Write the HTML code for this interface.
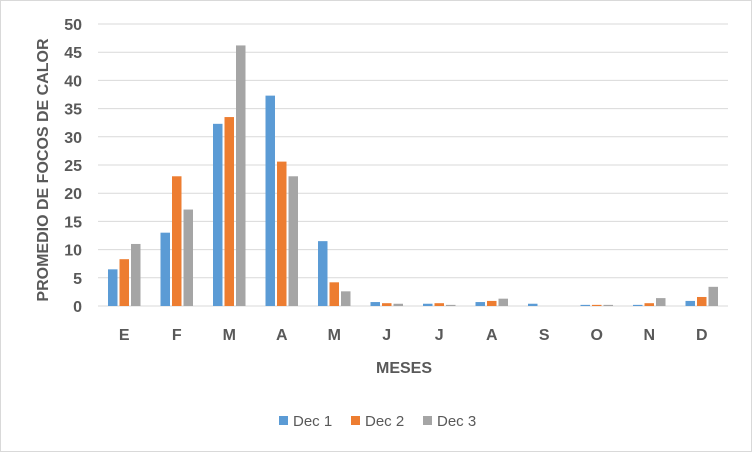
<!DOCTYPE html>
<html><head><meta charset="utf-8"><style>
body{margin:0;background:#fff}
svg text{font-family:"Liberation Sans",sans-serif;fill:#595959}
</style></head><body>
<svg width="752" height="452">
<rect x="0.5" y="0.5" width="751" height="451" fill="#fff" stroke="#d9d9d9"/>
<g id="grid"></g><g id="bars"></g><g id="labels"></g>
<text x="404" y="373" text-anchor="middle" font-size="16" font-weight="bold">MESES</text>
<text transform="translate(48,170) rotate(-90)" text-anchor="middle" font-size="16" font-weight="bold">PROMEDIO DE FOCOS DE CALOR</text>
<g id="legend"></g>
</svg>
<script>
const categories=["E","F","M","A","M","J","J","A","S","O","N","D"];
const dec1=[6.5,13,32.3,37.3,11.5,0.7,0.4,0.7,0.4,0.2,0.2,0.9];
const dec2=[8.3,23,33.5,25.6,4.2,0.5,0.5,0.9,0,0.2,0.5,1.6];
const dec3=[11,17.1,46.2,23,2.6,0.4,0.2,1.3,0,0.2,1.4,3.4];
const yTicks=[0,5,10,15,20,25,30,35,40,45,50];
const seriesNames=["Dec 1","Dec 2","Dec 3"];
const colors=["#5b9bd5","#ed7d31","#a5a5a5"];
const NS="http://www.w3.org/2000/svg";
const x0=98,x1=728,y0=306,y1=24,ymax=50;
const y=v=>y0-(v/ymax)*(y0-y1);
const cw=(x1-x0)/categories.length;
const xc=i=>x0+cw*(i+0.5);
function mk(t,a,p){const e=document.createElementNS(NS,t);for(const k in a)e.setAttribute(k,a[k]);p.appendChild(e);return e;}
const g=document.getElementById('grid'),b=document.getElementById('bars'),l=document.getElementById('labels'),lg=document.getElementById('legend');
yTicks.forEach(t=>{
 const ln=mk('line',{x1:x0,x2:x1,y1:y(t),y2:y(t),stroke:'#d9d9d9','stroke-width':1},g);
 
 
 const tx=mk('text',{x:82,y:y(t)+6,'text-anchor':'end','font-size':16,'font-weight':'bold'},l);
 tx.textContent=t;
 
 
});
const series=[dec1,dec2,dec3];
const bw=9.5,gap=2;
categories.forEach((c,i)=>{
 series.forEach((s,j)=>{
  const bx=xc(i)+(j-1)*(bw+gap)-bw/2;
  const r=mk('rect',{x:bx,y:y(s[i]),width:bw,height:y0-y(s[i]),fill:colors[j]},b);
  
  
 });
 const tx=mk('text',{x:xc(i),y:340,'text-anchor':'middle','font-size':16,'font-weight':'bold'},l);
 tx.textContent=c;
 
 
});
const lx=[279,351,423];
seriesNames.forEach((n,j)=>{
 const r=mk('rect',{x:lx[j],y:416,width:9,height:9,fill:colors[j]},lg);
 
 
 const t=mk('text',{x:lx[j]+14,y:426,'font-size':15},lg);
 t.textContent=n;
 
 
});
</script>
</body></html>
